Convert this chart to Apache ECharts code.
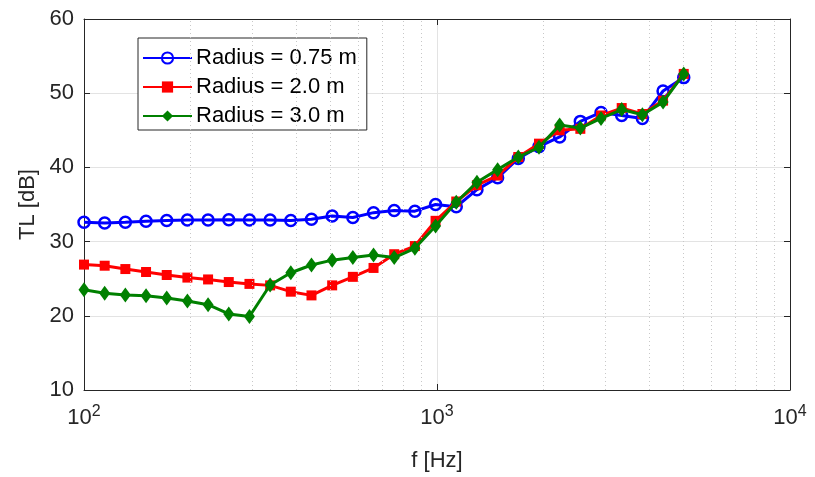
<!DOCTYPE html>
<html>
<head>
<meta charset="utf-8">
<script src="https://cdn.jsdelivr.net/npm/echarts@6/dist/echarts.min.js"></script>
<style>html,body{margin:0;padding:0;background:#fff;}#c{width:815px;height:477px;}</style>
</head>
<body>
<div id="c"></div>
<script>
const freqs = [100, 114.44, 130.97, 149.89, 171.53, 196.30, 224.65, 257.10, 294.23, 336.72,
  385.35, 441.00, 504.69, 577.58, 661.00, 756.46, 865.71, 990.73, 1133.8, 1297.6,
  1485.0, 1699.4, 1944.9, 2225.7, 2547.2, 2915.0, 3336.0, 3817.8, 4369.2, 5000];
const tl075 = [32.6, 32.5, 32.6, 32.75, 32.85, 32.9, 32.9, 32.95, 32.9, 32.9,
  32.85, 33.0, 33.45, 33.25, 33.9, 34.2, 34.1, 35.0, 34.7, 37.0,
  38.6, 41.2, 42.8, 44.1, 46.2, 47.4, 47.0, 46.6, 50.3, 52.1];
const tl20 = [26.9, 26.75, 26.3, 25.9, 25.5, 25.15, 24.9, 24.55, 24.3, 24.1,
  23.25, 22.75, 24.1, 25.25, 26.45, 28.3, 29.4, 32.8, 35.4, 37.6,
  38.9, 41.4, 43.2, 45.0, 45.2, 47.0, 48.0, 47.2, 49.0, 52.6];
const tl30 = [23.5, 23.05, 22.8, 22.7, 22.4, 22.0, 21.5, 20.25, 19.9, 24.15,
  25.8, 26.85, 27.5, 27.85, 28.2, 27.85, 29.1, 32.1, 35.3, 38.0,
  39.7, 41.4, 42.7, 45.7, 45.3, 46.6, 47.8, 47.1, 48.8, 52.6];
const seriesNames = ['Radius = 0.75 m', 'Radius = 2.0 m', 'Radius = 3.0 m'];
const minorGridFreqs = [200, 300, 400, 500, 600, 700, 800, 900, 2000, 3000, 4000, 5000, 6000, 7000, 8000, 9000];
const yMin = 10, yMax = 60, yStep = 10;
const xMin = 100, xMax = 10000;

const pair = (vals) => freqs.map((f, i) => [f, vals[i]]);
const axisColor = '#262626';
const font = 'Liberation Sans, Arial, Helvetica, sans-serif';

const chart = echarts.init(document.getElementById('c'), null, {renderer: 'canvas'});
chart.setOption({
  animation: false,
  backgroundColor: '#fff',
  textStyle: {fontFamily: font},
  grid: {left: 84, right: 25, top: 19, bottom: 85, containLabel: false},
  legend: {
    data: seriesNames,
    orient: 'vertical',
    left: 138, top: 38,
    backgroundColor: '#fff',
    borderColor: '#262626', borderWidth: 1,
    padding: [8, 10, 2, 4],
    itemWidth: 49, itemHeight: 14, itemGap: 5,
    textStyle: {fontSize: 22, color: '#000', fontFamily: font, lineHeight: 24, padding: [0, 0, 0, -1]}
  },
  xAxis: [{
    type: 'log', logBase: 10, min: xMin, max: xMax,
    name: 'f [Hz]', nameLocation: 'middle', nameGap: 60,
    nameTextStyle: {fontSize: 22, color: axisColor, fontFamily: font},
    axisLine: {lineStyle: {color: axisColor, width: 1}},
    axisTick: {inside: true, length: 6, lineStyle: {color: axisColor}},
    axisLabel: {
      margin: 14, color: axisColor,
      formatter: (v) => '{b|10}{s|' + Math.round(Math.log10(v)) + '}',
      rich: {
        b: {fontSize: 22, lineHeight: 22, color: axisColor, fontFamily: font, padding: [6, 0, 0, 0]},
        s: {fontSize: 16, lineHeight: 16, color: axisColor, fontFamily: font, verticalAlign: 'top'}
      }
    },
    splitLine: {show: true, lineStyle: {color: '#e3e3e3', width: 1}}
  }, {
    type: 'log', logBase: 10, min: xMin, max: xMax, position: 'top',
    axisLine: {lineStyle: {color: axisColor, width: 1}},
    axisTick: {inside: true, length: 6, lineStyle: {color: axisColor}},
    axisLabel: {show: false}, splitLine: {show: false}
  }],
  yAxis: [{
    type: 'value', min: yMin, max: yMax, interval: yStep,
    name: 'TL [dB]', nameLocation: 'middle', nameGap: 40, nameRotate: 90,
    nameTextStyle: {fontSize: 22, color: axisColor, fontFamily: font},
    axisLine: {show: true, lineStyle: {color: axisColor, width: 1}},
    axisTick: {show: true, inside: true, length: 6, lineStyle: {color: axisColor}},
    axisLabel: {fontSize: 22, color: axisColor, margin: 10, fontFamily: font},
    splitLine: {show: true, lineStyle: {color: '#e3e3e3', width: 1}}
  }, {
    type: 'value', min: yMin, max: yMax, interval: yStep, position: 'right',
    axisLine: {show: true, lineStyle: {color: axisColor, width: 1}},
    axisTick: {show: true, inside: true, length: 6, lineStyle: {color: axisColor}},
    axisLabel: {show: false}, splitLine: {show: false}
  }],
  series: [
    {
      name: '_grid', type: 'line', data: [], z: 1, silent: true,
      markLine: {
        silent: true, symbol: ['none', 'none'], label: {show: false},
        lineStyle: {type: [1, 3], color: '#c8c8c8', width: 1},
        data: minorGridFreqs.map(f => ({xAxis: f}))
      }
    },
    {
      name: seriesNames[0], type: 'line', data: pair(tl075), z: 3,
      symbol: 'circle', symbolSize: 11,
      lineStyle: {color: '#0000ff', width: 3},
      itemStyle: {color: 'rgba(0,0,255,0)', borderColor: '#0000ff', borderWidth: 2.5}
    },
    {
      name: seriesNames[1], type: 'line', data: pair(tl20), z: 4,
      symbol: 'rect', symbolSize: 10,
      lineStyle: {color: '#ff0000', width: 3},
      itemStyle: {color: '#ff0000', borderColor: '#ff0000', borderWidth: 0}
    },
    {
      name: seriesNames[2], type: 'line', data: pair(tl30), z: 5,
      symbol: 'diamond', symbolSize: [11, 15],
      lineStyle: {color: '#008000', width: 3},
      itemStyle: {color: '#008000', borderColor: '#008000', borderWidth: 0}
    }
  ]
});
</script>
</body>
</html>
